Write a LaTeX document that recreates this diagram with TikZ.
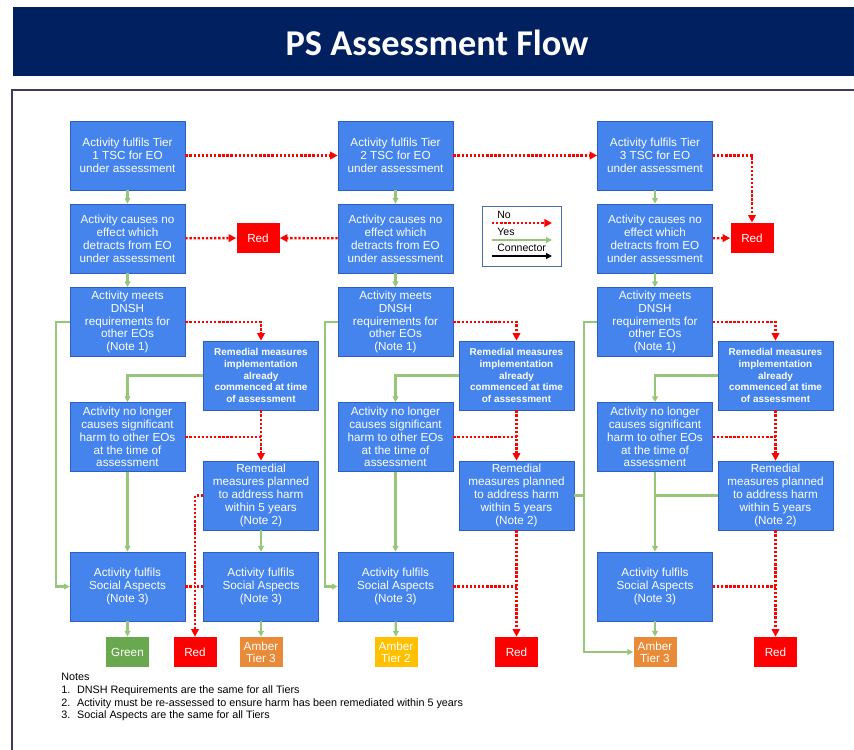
\documentclass[tikz,border=0pt]{standalone}
\usepackage{fontspec}
\setmainfont{Liberation Sans}
\newfontfamily\titlefont{Carlito}
\usepackage{tikz}
\usetikzlibrary{calc}
\usetikzlibrary{arrows.meta}
\tikzset{every picture/.style={semithick, >={Triangle[length=5pt,width=5pt]}}}
\definecolor{boxBlue}{RGB}{68,132,236}
\definecolor{boxEdge}{RGB}{45,95,190}
\definecolor{navyBar}{RGB}{0,32,96}
\definecolor{yesGreen}{RGB}{150,198,122}
\definecolor{okGreen}{RGB}{106,168,79}
\definecolor{amberOrange}{RGB}{232,138,56}
\definecolor{amberYellow}{RGB}{255,192,0}
\definecolor{noRed}{RGB}{255,0,0}
\definecolor{frameEdge}{RGB}{60,60,95}

\begin{document}
\begin{tikzpicture}[x=0.03cm,y=-0.03cm,
    check/.style={draw=boxEdge, fill=boxBlue, text=white, minimum width=3.45cm, minimum height=2.07cm,
        inner sep=1pt, align=center, font=\fontsize{10}{11}\selectfont},
    remedy/.style={check, font=\bfseries\fontsize{8.5}{10}\selectfont},
    outcome/.style={minimum width=1.29cm, minimum height=0.9cm, inner sep=0pt, text=white, align=center,
        font=\fontsize{10}{10.5}\selectfont},
    noline/.style={noRed, line width=2pt, dash pattern=on 2pt off 1.5pt, -{Triangle[length=6.5pt,width=6.5pt]}},
    yesline/.style={yesGreen, line width=2pt, ->}]
    \useasboundingbox (0,0) rectangle (854,750);
    \fill[navyBar] (13,7) rectangle (854,76);
    \node[text=white, font=\titlefont\bfseries\fontsize{31}{31}\selectfont] (title) at (437,43) {PS Assessment Flow};
    \draw[frameEdge, line width=1.2pt] (12,752) -- (12,90) -- (856,90);

    \node[check] (t1) at (127.5,155.5) {Activity fulfils Tier\\1 TSC for EO\\under assessment};
    \node[check] (e1) at (127.5,238.5) {Activity causes no\\effect which\\detracts from EO\\under assessment};
    \node[check] (d1) at (127.5,322) {Activity meets\\DNSH\\requirements for\\other EOs\\(Note 1)};
    \node[remedy] (r1) at (261,375.5) {Remedial measures\\implementation\\already\\commenced at time\\of assessment};
    \node[check] (n1) at (127.5,437) {Activity no longer\\causes significant\\harm to other EOs\\at the time of\\assessment};
    \node[check] (p1) at (261,495.5) {Remedial\\measures planned\\to address harm\\within 5 years\\(Note 2)};
    \node[check] (s1) at (127.5,586.5) {Activity fulfils\\Social Aspects\\(Note 3)};
    \node[check] (s1b) at (261,586.5) {Activity fulfils\\Social Aspects\\(Note 3)};

    \node[check] (t2) at (395.5,155.5) {Activity fulfils Tier\\2 TSC for EO\\under assessment};
    \node[check] (e2) at (395.5,238.5) {Activity causes no\\effect which\\detracts from EO\\under assessment};
    \node[check] (d2) at (395.5,322) {Activity meets\\DNSH\\requirements for\\other EOs\\(Note 1)};
    \node[remedy] (r2) at (516.5,375.5) {Remedial measures\\implementation\\already\\commenced at time\\of assessment};
    \node[check] (n2) at (395.5,437) {Activity no longer\\causes significant\\harm to other EOs\\at the time of\\assessment};
    \node[check] (p2) at (516.5,495.5) {Remedial\\measures planned\\to address harm\\within 5 years\\(Note 2)};
    \node[check] (s2) at (395.5,586.5) {Activity fulfils\\Social Aspects\\(Note 3)};

    \node[check] (t3) at (655,155.5) {Activity fulfils Tier\\3 TSC for EO\\under assessment};
    \node[check] (e3) at (655,238.5) {Activity causes no\\effect which\\detracts from EO\\under assessment};
    \node[check] (d3) at (655,322) {Activity meets\\DNSH\\requirements for\\other EOs\\(Note 1)};
    \node[remedy] (r3) at (775.5,375.5) {Remedial measures\\implementation\\already\\commenced at time\\of assessment};
    \node[check] (n3) at (655,437) {Activity no longer\\causes significant\\harm to other EOs\\at the time of\\assessment};
    \node[check] (p3) at (775.5,495.5) {Remedial\\measures planned\\to address harm\\within 5 years\\(Note 2)};
    \node[check] (s3) at (655,586.5) {Activity fulfils\\Social Aspects\\(Note 3)};

    \node[outcome, fill=noRed] (red1) at (258,238) {Red};
    \node[outcome, fill=noRed] (red3) at (752,238) {Red};
    \node[outcome, fill=okGreen] (green) at (127.5,652) {Green};
    \node[outcome, fill=noRed] (red1b) at (195,652) {Red};
    \node[outcome, fill=amberOrange] (a1) at (261,652) {Amber\\Tier 3};
    \node[outcome, fill=amberYellow] (a2) at (396,652) {Amber\\Tier 2};
    \node[outcome, fill=noRed] (red2) at (516.5,652) {Red};
    \node[outcome, fill=amberOrange] (a3) at (655,652) {Amber\\Tier 3};
    \node[outcome, fill=noRed] (red3b) at (775.5,652) {Red};

    \node[draw=boxEdge!60!gray, fill=white, minimum width=2.37cm, minimum height=1.8cm] (legend) at (521.5,236) {};
    \node[anchor=west, inner sep=0pt, font=\fontsize{9}{9}\selectfont] (nolbl) at (497,215) {No};
    \node[anchor=west, inner sep=0pt, font=\fontsize{9}{9}\selectfont] (yeslbl) at (497,232) {Yes};
    \node[anchor=west, inner sep=0pt, font=\fontsize{9}{9}\selectfont] (conlbl) at (497,248) {Connector};
    \coordinate (noL) at (492,223);
    \coordinate (noR) at (552,223);
    \coordinate (yesL) at (492,240);
    \coordinate (yesR) at (552,240);
    \coordinate (conL) at (492,256);
    \coordinate (conR) at (552,256);
    \draw[noline] (noL) -- (noR);
    \draw[yesline] (yesL) -- (yesR);
    \draw[black, line width=1.6pt, ->] (conL) -- (conR);

    \node[anchor=north west, inner sep=0pt, align=left, font=\fontsize{9.2}{10.8}\selectfont] (notes) at (61,673) {Notes\\
        \makebox[13.5pt][l]{1.}DNSH Requirements are the same for all Tiers\\
        \makebox[13.5pt][l]{2.}Activity must be re-assessed to ensure harm has been remediated within 5 years\\
        \makebox[13.5pt][l]{3.}Social Aspects are the same for all Tiers};

    \coordinate (rail1) at (56,322);
    \coordinate (rail2) at (325,322);
    \coordinate (rail3) at (584,322);

    \draw[yesline] (t1) -- (e1);
    \draw[yesline] (e1) -- (d1);
    \draw[yesline] (d1.west) -- (rail1) |- (s1);
    \draw[yesline] (r1.west) -| (n1);
    \draw[yesline] (n1) -- (s1);
    \draw[yesline] (p1) -- (s1b);
    \draw[yesline] (s1) -- (green);
    \draw[yesline] (s1b) -- (a1);
    \draw[noline] (t1) -- (t2);
    \draw[noline] (e1) -- (red1);
    \draw[noline] (d1.east) -| (r1);
    \draw[noline] (r1) -- (p1);
    \draw[noline, -] (n1.east) -- (n1.east -| r1.south);
    \draw[noline] (p1.west) -| (red1b);
    \draw[noline, -] (s1.east) -- (s1.east -| red1b.north);
    \draw[noline, -] (s1b.west) -- (s1b.west -| red1b.north);

    \draw[yesline] (t2) -- (e2);
    \draw[yesline] (e2) -- (d2);
    \draw[yesline] (d2.west) -- (rail2) |- (s2);
    \draw[yesline] (r2.west) -| (n2);
    \draw[yesline] (n2) -- (s2);
    \draw[yesline] (s2) -- (a2);
    \draw[yesline, -] (p2.east) -- (p2.east -| rail3);
    \draw[noline] (t2) -- (t3);
    \draw[noline] (e2) -- (red1);
    \draw[noline] (d2.east) -| (r2);
    \draw[noline] (r2) -- (p2);
    \draw[noline, -] (n2.east) -- (n2.east -| r2.south);
    \draw[noline] (p2) -- (red2);
    \draw[noline, -] (s2.east) -- (s2.east -| red2.north);

    \draw[yesline] (t3) -- (e3);
    \draw[yesline] (e3) -- (d3);
    \draw[yesline] (d3.west) -- (rail3) |- (a3);
    \draw[yesline] (r3.west) -| (n3);
    \draw[yesline] (n3) -- (s3);
    \draw[yesline, -] (p3.west) -- (p3.west -| n3.south);
    \draw[yesline] (s3) -- (a3);
    \draw[noline] (t3.east) -| (red3);
    \draw[noline] (e3) -- (red3);
    \draw[noline] (d3.east) -| (r3);
    \draw[noline] (r3) -- (p3);
    \draw[noline, -] (n3.east) -- (n3.east -| r3.south);
    \draw[noline] (p3) -- (red3b);
    \draw[noline, -] (s3.east) -- (s3.east -| red3b.north);
\end{tikzpicture}
\end{document}
